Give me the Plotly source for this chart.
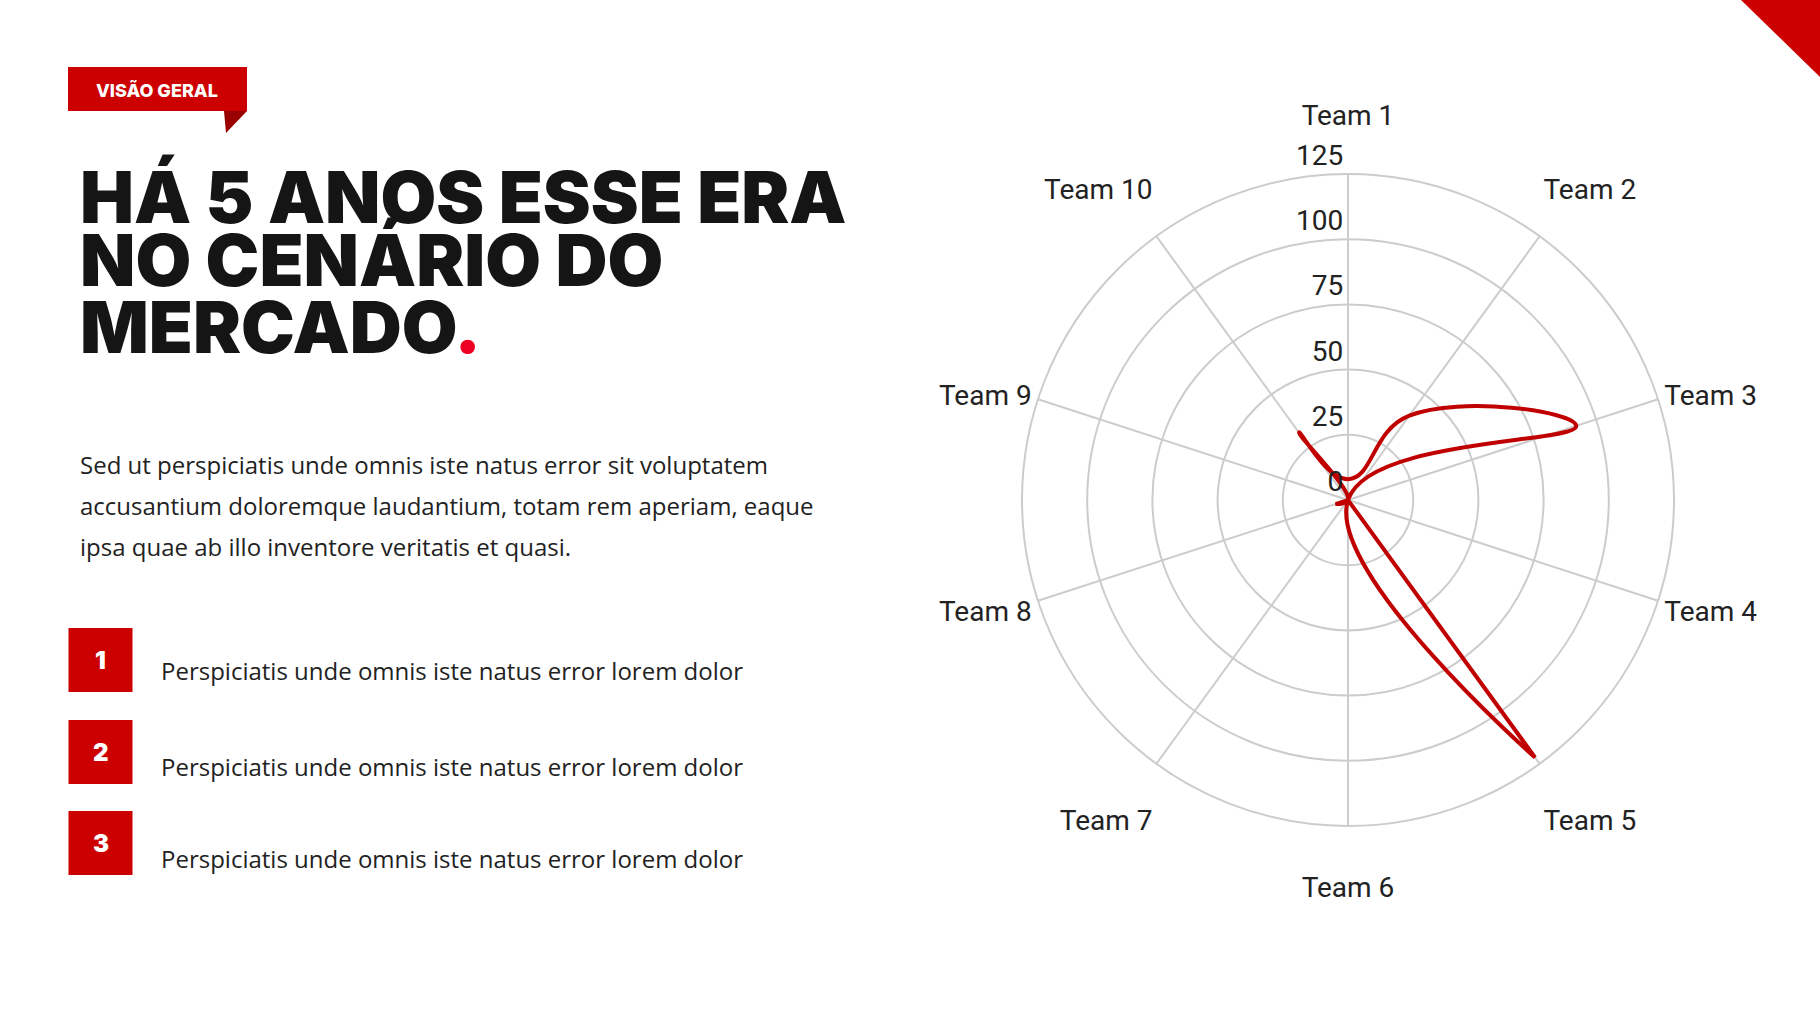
import plotly.graph_objects as go

teams = ["Team 1", "Team 2", "Team 3", "Team 4", "Team 5",
         "Team 6", "Team 7", "Team 8", "Team 9", "Team 10"]
values = [8, 40, 92, 0, 122, 0, 0, 5, 0, 32]
radial_ticks = [0, 25, 50, 75, 100, 125]

title_lines = ["HÁ 5 ANOS ESSE ERA", "NO CENÁRIO DO", "MERCADO"]
badge_text = "VISÃO GERAL"
paragraph_lines = [
    "Sed ut perspiciatis unde omnis iste natus error sit voluptatem",
    "accusantium doloremque laudantium, totam rem aperiam, eaque",
    "ipsa quae ab illo inventore veritatis et quasi.",
]
list_numbers = ["1", "2", "3"]
list_texts = ["Perspiciatis unde omnis iste natus error lorem dolor"] * 3

RED = "#cc0000"
LINE_RED = "#c00000"
W, H = 1820, 1024

# label layout: pad upper labels with a blank line below, lower ones with a blank line above
upper = {"Team 1", "Team 2", "Team 10"}
lower = {"Team 5", "Team 6", "Team 7"}
def label(t):
    if t in upper:
        return t + "<br> "
    if t in lower:
        return " <br>" + t
    return t
team_labels = [label(t) for t in teams]

fig = go.Figure()
fig.add_trace(go.Scatterpolar(
    r=values + values[:1],
    theta=teams + teams[:1],
    mode="lines",
    line=dict(color=LINE_RED, width=4, shape="spline", smoothing=1.3),
    hoverinfo="skip",
    showlegend=False,
))

cx, cy, R = 1348, 500, 326
fig.update_layout(
    width=W, height=H,
    margin=dict(l=0, r=0, t=0, b=0),
    paper_bgcolor="white",
    plot_bgcolor="white",
    polar=dict(
        domain=dict(x=[(cx - R) / W, (cx + R) / W],
                    y=[(H - cy - R) / H, (H - cy + R) / H]),
        bgcolor="white",
        radialaxis=dict(
            range=[0, 125],
            tickvals=radial_ticks,
            ticktext=[f"{v}<br> " for v in radial_ticks],
            angle=90,
            tickangle=90,
            side="counterclockwise",
            showline=False,
            gridcolor="#cccccc",
            gridwidth=2,
            ticks="",
            tickfont=dict(family="Roboto", size=28, color="#222222"),
        ),
        angularaxis=dict(
            direction="clockwise",
            rotation=90,
            tickvals=teams,
            ticktext=team_labels,
            gridcolor="#cccccc",
            gridwidth=2,
            linecolor="#cccccc",
            linewidth=2,
            ticks="",
            tickfont=dict(family="Roboto", size=28, color="#222222"),
        ),
    ),
)

shapes = []
# badge
shapes.append(dict(type="rect", xref="paper", yref="paper",
                   x0=68 / W, x1=247 / W, y0=1 - 111 / H, y1=1 - 67 / H,
                   fillcolor=RED, line=dict(width=0), layer="above"))
shapes.append(dict(type="path", xref="paper", yref="paper",
                   path=f"M {224/W},{1-111/H} L {247/W},{1-111/H} L {226/W},{1-133/H} Z",
                   fillcolor="#990000", line=dict(width=0)))
# top-right corner triangle
shapes.append(dict(type="path", xref="paper", yref="paper",
                   path=f"M {1741/W},1 L 1,1 L 1,{1-77/H} Z",
                   fillcolor=RED, line=dict(width=0)))
# number boxes
box_tops = [628, 720, 811]
for t in box_tops:
    shapes.append(dict(type="rect", xref="paper", yref="paper",
                       x0=68.5 / W, x1=132.5 / W, y0=1 - (t + 64) / H, y1=1 - t / H,
                       fillcolor=RED, line=dict(width=0)))
fig.update_layout(shapes=shapes)

ann = []
ann.append(dict(text=badge_text, x=157 / W, y=1 - 90 / H, xref="paper", yref="paper",
                xanchor="center", yanchor="middle", showarrow=False,
                font=dict(family="Inter", size=18, color="white", weight=800)))
title_y = [196, 259, 326]
for i, line in enumerate(title_lines):
    txt = line if i < 2 else line + "<span style='color:#ee0022'>.</span>"
    ann.append(dict(text=txt, x=78 / W, y=1 - title_y[i] / H, xref="paper", yref="paper",
                    xanchor="left", yanchor="middle", showarrow=False,
                    font=dict(family="Inter", size=72, color="#151515", weight=900)))
para_y = [464, 505, 546]
for i, line in enumerate(paragraph_lines):
    ann.append(dict(text=line, x=78 / W, y=1 - para_y[i] / H, xref="paper", yref="paper",
                    xanchor="left", yanchor="middle", showarrow=False,
                    font=dict(family="Open Sans", size=24, color="#222222")))
item_y = [670, 766, 858]
for i in range(3):
    ann.append(dict(text=list_numbers[i], x=100.5 / W, y=1 - (box_tops[i] + 32) / H,
                    xref="paper", yref="paper", xanchor="center", yanchor="middle",
                    showarrow=False, font=dict(family="Inter", size=24, color="white", weight=900)))
    ann.append(dict(text=list_texts[i], x=159 / W, y=1 - item_y[i] / H, xref="paper", yref="paper",
                    xanchor="left", yanchor="middle", showarrow=False,
                    font=dict(family="Open Sans", size=24, color="#222222")))
fig.update_layout(annotations=ann)

fig.write_html("out.html", config={"displayModeBar": False},
               post_script="document.body.style.margin='0';")
